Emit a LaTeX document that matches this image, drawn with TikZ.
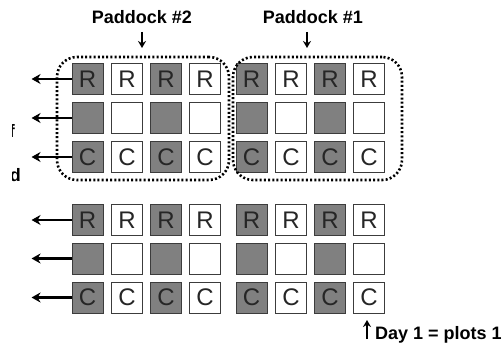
\documentclass[tikz,border=0pt]{standalone}
\usepackage{fontspec}
\setmainfont{Liberation Sans}
\usetikzlibrary{arrows.meta,calc}
\definecolor{plotgray}{RGB}{128,128,128}
\definecolor{edgegray}{RGB}{60,60,60}
\begin{document}
\begin{tikzpicture}[x=1pt,y=-1pt,
  plot/.style={draw=edgegray, line width=0.9pt, minimum size=31pt, inner sep=0pt,
    font=\fontsize{24}{24}\selectfont, text=black!85},
  arr/.style={line width=2.8pt, -{Stealth[length=9pt,width=10pt]}},
  smallarr/.style={line width=2.2pt, -{Stealth[length=7pt,width=8pt]}},
  paddock/.style={draw, line width=2.6pt, dash pattern=on 2pt off 2.2pt,
    rounded corners=20pt, inner sep=0pt},
  lbl/.style={font=\bfseries\fontsize{18}{18}\selectfont, inner sep=0pt}]
\useasboundingbox (0,0) rectangle (503,350);
\clip (0,0) rectangle (503,350);
% plots
\foreach \yy/\txt [count=\r] in {79/R,118/{},157/C,220/R,258.5/{},297.5/C}{
  \foreach \xx [count=\c] in {87.5,127,166,205,251.5,291,330,369}{
    \ifodd\c \def\fc{plotgray}\else\def\fc{white}\fi
    \node[plot, fill=\fc] (b-\r-\c) at (\xx,\yy) {\txt};
  }
  \coordinate (a-\r) at ($(b-\r-1.west)+(-40,0)$);
  \draw[arr] (b-\r-1.west) -- (a-\r);
}
% paddocks
\node[paddock, minimum width=172pt, minimum height=123pt] (p2) at (143,118.5) {};
\node[paddock, minimum width=169pt, minimum height=123pt] (p1) at (317.5,118.5) {};
% labels
\node[lbl] (l2) at (142,17) {Paddock \#2};
\node[lbl] (l1) at (313,17) {Paddock \#1};
\coordinate (s2) at (142,32);
\coordinate (e2) at (142,48);
\coordinate (s1) at (307,32);
\coordinate (e1) at (307,48);
\draw[smallarr] (s2) -- (e2);
\draw[smallarr] (s1) -- (e1);
\coordinate (ds) at (367,339);
\coordinate (de) at (367,320);
\draw[smallarr] (ds) -- (de);
\node[lbl, anchor=west] (day) at (375,335) {Day 1 = plots 1};
% cropped fragments at left edge
\begin{scope}
\clip (12,0) rectangle (60,350);
\node[lbl, anchor=east] (ff) at (15,131) {f};
\node[lbl, anchor=east] (fd) at (21,175) {d};
\end{scope}
\end{tikzpicture}
\end{document}
